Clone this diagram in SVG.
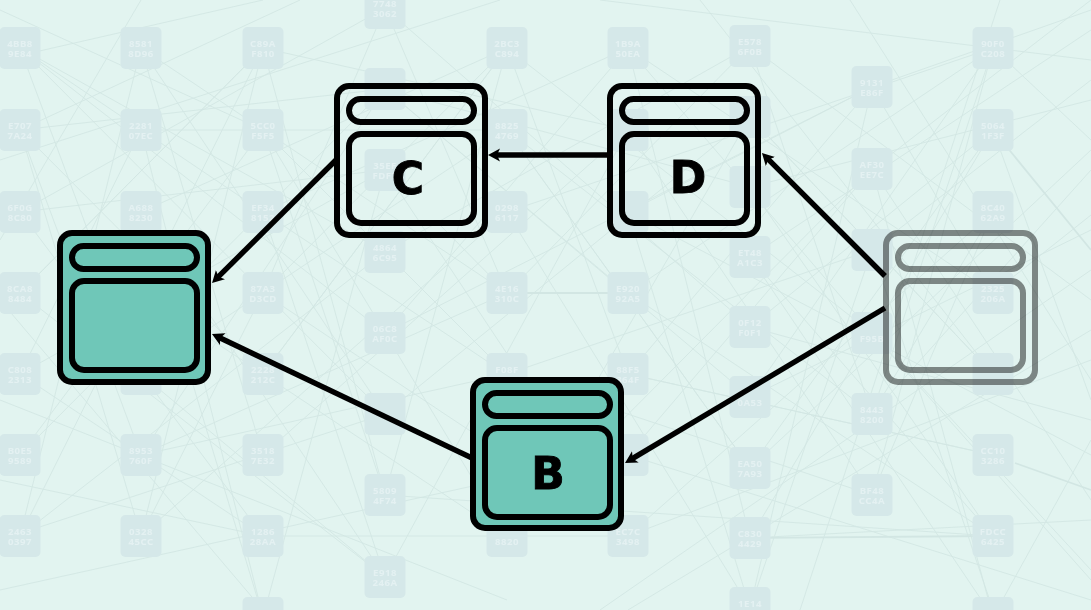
<svg xmlns="http://www.w3.org/2000/svg" width="1091" height="610" viewBox="0 0 1091 610">
<style>
.tile{fill:#d5e8e9}
.tt{font:bold 9.6px "Noto Sans","Liberation Sans",sans-serif;fill:#e4f1f2;text-anchor:middle;letter-spacing:.5px}
.web{fill:none;stroke:#d2e6e3;stroke-width:.9}
.frame{stroke:#000;stroke-width:6}
.w{fill:none}
.f{fill:#6fc7b8}
.lbl{font:bold 44px "DejaVu Sans",sans-serif;fill:#000;text-anchor:middle;stroke:#000;stroke-width:.9}
.cx{fill:none;stroke:#000;stroke-width:5.4}
</style>
<defs>
<filter id="soft" x="-2%" y="-2%" width="104%" height="104%"><feGaussianBlur stdDeviation="0.6"/></filter>
<rect id="t" x="-20.5" y="-21" width="41" height="42" rx="5"/>
<marker id="ah" markerUnits="userSpaceOnUse" markerWidth="14" markerHeight="16" refX="4" refY="7" orient="auto"><path d="M0,0.5 L12,7 L0,13.5 L3,7 Z" fill="#000"/></marker>
</defs>
<rect width="1091" height="610" fill="#e2f4f0"/>
<g id="background" filter="url(#soft)">
<path class="web" d="M0,10 L263,130 M20,48 L263,212 M20,48 L385,333 M20,130 L385,89 M20,212 L385,8 M20,293 L263,48 M20,374 L141,130 M20,455 L263,130 M20,536 L385,252 M141,48 L385,414 M141,48 L507,293 M141,130 L507,130 M141,212 L385,577 M141,455 L20,130 M141,536 L263,293 M141,536 L507,212 M263,48 L141,536 M263,48 L20,293 M263,130 L385,495 M263,212 L628,48 M263,293 L628,536 M263,374 L507,48 M263,455 L141,48 M263,536 L20,374 M263,536 L628,536 M263,617 L141,212 M263,617 L385,170 M385,8 L750,327 M385,89 L750,187 M385,89 L628,293 M385,170 L20,212 M385,252 L750,46 M385,333 L872,87 M385,414 L20,48 M385,495 L993,536 M385,577 L628,130 M385,577 L141,374 M507,48 L872,333 M507,48 L263,374 M507,130 L872,414 M507,212 L993,48 M507,293 L440,225 M507,374 L141,455 M507,536 L872,169 M507,536 L263,130 M628,48 L993,293 M628,130 L263,48 M628,212 L1091,455 M628,293 L993,536 M628,374 L872,87 M628,455 L263,212 M628,536 L993,212 M628,536 L1091,360 M750,46 L1091,300 M750,117 L507,536 M750,187 L1091,100 M750,257 L993,617 M750,327 L1091,420 M750,397 L385,89 M750,468 L507,130 M750,538 L993,130 M750,538 L1091,520 M750,608 L628,212 M750,608 L872,250 M872,87 L750,608 M872,87 L1091,10 M872,169 L1091,500 M872,250 L993,610 M872,333 L628,48 M872,414 L1091,170 M872,495 L507,374 M872,495 L993,48 M993,48 L750,397 M993,48 L1091,140 M993,130 L750,468 M993,212 L872,495 M993,293 L1091,215 M993,374 L750,117 M993,455 L628,374 M993,536 L750,257 M993,617 L872,169 M993,617 L1091,440 M600,0 L1091,60 M0,540 L385,414 M0,400 L507,600 M0,300 L263,610 M1091,330 L628,610 M1091,580 L872,333 M700,0 L993,374 M20,130 L300,0 M0,240 L141,0 M20,48 L141,374 M20,130 L141,536 M20,212 L263,536 M20,293 L385,577 M20,374 L385,170 M20,455 L385,89 M20,536 L263,48 M141,48 L20,536 M141,130 L263,617 M141,212 L507,48 M141,293 L507,536 M141,374 L507,130 M141,455 L507,293 M263,48 L385,495 M263,130 L507,374 M263,212 L385,577 M263,293 L507,48 M263,374 L20,130 M263,455 L628,130 M385,8 L507,293 M385,8 L263,293 M385,89 L141,455 M385,170 L628,536 M385,252 L20,48 M385,333 L628,48 M385,414 L750,117 M385,495 L507,48 M507,48 L628,374 M507,130 L750,468 M507,212 L750,608 M507,293 L750,46 M507,374 L872,250 M628,48 L750,538 M628,130 L872,495 M628,212 L872,87 M628,293 L993,48 M628,374 L993,455 M628,455 L872,169 M750,46 L872,414 M750,117 L993,374 M750,187 L993,536 M750,257 L1091,30 M750,327 L993,130 M750,397 L1091,230 M750,468 L1091,150 M872,87 L993,293 M872,169 L1091,0 M872,250 L1091,80 M872,333 L1091,570 M872,414 L993,212 M993,48 L872,414 M993,130 L1091,400 M0,60 L263,0 M0,160 L500,0 M0,590 L500,480 M0,480 L263,536 M600,610 L1091,270 M800,610 L1000,0 M1091,600 L628,455 M850,0 L1091,380"/>
<path class="web" d="M507,293 L628,293 M993,130 L1091,250 M1015,463 L1091,490 M750,538 L993,536" style="stroke-width:1.8"/>
<g class="tile">
<use href="#t" x="20" y="48"/><use href="#t" x="20" y="130"/><use href="#t" x="20" y="212"/><use href="#t" x="20" y="293"/><use href="#t" x="20" y="374"/><use href="#t" x="20" y="455"/><use href="#t" x="20" y="536"/>
<use href="#t" x="141" y="48"/><use href="#t" x="141" y="130"/><use href="#t" x="141" y="212"/><use href="#t" x="141" y="293"/><use href="#t" x="141" y="374"/><use href="#t" x="141" y="455"/><use href="#t" x="141" y="536"/>
<use href="#t" x="263" y="48"/><use href="#t" x="263" y="130"/><use href="#t" x="263" y="212"/><use href="#t" x="263" y="293"/><use href="#t" x="263" y="374"/><use href="#t" x="263" y="455"/><use href="#t" x="263" y="536"/><use href="#t" x="263" y="618"/>
<use href="#t" x="385" y="8"/><use href="#t" x="385" y="89"/><use href="#t" x="385" y="170"/><use href="#t" x="385" y="252"/><use href="#t" x="385" y="333"/><use href="#t" x="385" y="414"/><use href="#t" x="385" y="495"/><use href="#t" x="385" y="577"/>
<use href="#t" x="507" y="48"/><use href="#t" x="507" y="130"/><use href="#t" x="507" y="212"/><use href="#t" x="507" y="293"/><use href="#t" x="507" y="374"/><use href="#t" x="507" y="455"/><use href="#t" x="507" y="536"/>
<use href="#t" x="628" y="48"/><use href="#t" x="628" y="130"/><use href="#t" x="628" y="212"/><use href="#t" x="628" y="293"/><use href="#t" x="628" y="374"/><use href="#t" x="628" y="455"/><use href="#t" x="628" y="536"/>
<use href="#t" x="750" y="46"/><use href="#t" x="750" y="117"/><use href="#t" x="750" y="187"/><use href="#t" x="750" y="257"/><use href="#t" x="750" y="327"/><use href="#t" x="750" y="397"/><use href="#t" x="750" y="468"/><use href="#t" x="750" y="538"/><use href="#t" x="750" y="608"/>
<use href="#t" x="872" y="87"/><use href="#t" x="872" y="169"/><use href="#t" x="872" y="250"/><use href="#t" x="872" y="333"/><use href="#t" x="872" y="414"/><use href="#t" x="872" y="495"/>
<use href="#t" x="993" y="48"/><use href="#t" x="993" y="130"/><use href="#t" x="993" y="212"/><use href="#t" x="993" y="293"/><use href="#t" x="993" y="374"/><use href="#t" x="993" y="455"/><use href="#t" x="993" y="536"/><use href="#t" x="993" y="618"/>
</g>
<g class="tt">
<text y="46.6"><tspan x="20">4BB8</tspan><tspan x="20" dy="10.4">9E84</tspan></text>
<text y="128.6"><tspan x="20">E707</tspan><tspan x="20" dy="10.4">7A24</tspan></text>
<text y="210.6"><tspan x="20">6F0G</tspan><tspan x="20" dy="10.4">8C80</tspan></text>
<text y="291.6"><tspan x="20">8CA8</tspan><tspan x="20" dy="10.4">8484</tspan></text>
<text y="372.6"><tspan x="20">C808</tspan><tspan x="20" dy="10.4">2313</tspan></text>
<text y="453.6"><tspan x="20">B0E5</tspan><tspan x="20" dy="10.4">9589</tspan></text>
<text y="534.6"><tspan x="20">2463</tspan><tspan x="20" dy="10.4">0397</tspan></text>
<text y="46.6"><tspan x="141">8581</tspan><tspan x="141" dy="10.4">8D96</tspan></text>
<text y="128.6"><tspan x="141">2281</tspan><tspan x="141" dy="10.4">07EC</tspan></text>
<text y="210.6"><tspan x="141">A688</tspan><tspan x="141" dy="10.4">8230</tspan></text>
<text y="453.6"><tspan x="141">8953</tspan><tspan x="141" dy="10.4">760F</tspan></text>
<text y="534.6"><tspan x="141">0328</tspan><tspan x="141" dy="10.4">45CC</tspan></text>
<text y="46.6"><tspan x="263">C89A</tspan><tspan x="263" dy="10.4">F810</tspan></text>
<text y="128.6"><tspan x="263">5CC0</tspan><tspan x="263" dy="10.4">F5F5</tspan></text>
<text y="210.6"><tspan x="263">EF34</tspan><tspan x="263" dy="10.4">8152</tspan></text>
<text y="291.6"><tspan x="263">87A3</tspan><tspan x="263" dy="10.4">D3CD</tspan></text>
<text y="372.6"><tspan x="263">2228</tspan><tspan x="263" dy="10.4">212C</tspan></text>
<text y="453.6"><tspan x="263">3518</tspan><tspan x="263" dy="10.4">7E32</tspan></text>
<text y="534.6"><tspan x="263">1286</tspan><tspan x="263" dy="10.4">28AA</tspan></text>
<text y="6.6"><tspan x="385">7748</tspan><tspan x="385" dy="10.4">3062</tspan></text>
<text y="168.6"><tspan x="385">35EF</tspan><tspan x="385" dy="10.4">FDF7</tspan></text>
<text y="250.6"><tspan x="385">4864</tspan><tspan x="385" dy="10.4">6C95</tspan></text>
<text y="331.6"><tspan x="385">06C8</tspan><tspan x="385" dy="10.4">AF0C</tspan></text>
<text y="493.6"><tspan x="385">5809</tspan><tspan x="385" dy="10.4">4F74</tspan></text>
<text y="575.6"><tspan x="385">E918</tspan><tspan x="385" dy="10.4">246A</tspan></text>
<text y="46.6"><tspan x="507">2BC3</tspan><tspan x="507" dy="10.4">C894</tspan></text>
<text y="128.6"><tspan x="507">8825</tspan><tspan x="507" dy="10.4">4769</tspan></text>
<text y="210.6"><tspan x="507">0298</tspan><tspan x="507" dy="10.4">6117</tspan></text>
<text y="291.6"><tspan x="507">4E16</tspan><tspan x="507" dy="10.4">310C</tspan></text>
<text x="507" y="372.6">F08F</text>
<text x="507" y="545">8820</text>
<text y="46.6"><tspan x="628">1B9A</tspan><tspan x="628" dy="10.4">50EA</tspan></text>
<text y="291.6"><tspan x="628">E920</tspan><tspan x="628" dy="10.4">92A5</tspan></text>
<text y="372.6"><tspan x="628">88F5</tspan><tspan x="628" dy="10.4">364F</tspan></text>
<text y="534.6"><tspan x="628">EC7C</tspan><tspan x="628" dy="10.4">3498</tspan></text>
<text y="44.6"><tspan x="750">E578</tspan><tspan x="750" dy="10.4">6F0B</tspan></text>
<text y="255.6"><tspan x="750">ET48</tspan><tspan x="750" dy="10.4">A1C3</tspan></text>
<text y="325.6"><tspan x="750">0F12</tspan><tspan x="750" dy="10.4">F0F1</tspan></text>
<text x="750" y="406">0A53</text>
<text y="466.6"><tspan x="750">EA50</tspan><tspan x="750" dy="10.4">7A93</tspan></text>
<text y="536.6"><tspan x="750">C830</tspan><tspan x="750" dy="10.4">4429</tspan></text>
<text x="750" y="606.6">1E14</text>
<text y="85.6"><tspan x="872">9131</tspan><tspan x="872" dy="10.4">E86F</tspan></text>
<text y="167.6"><tspan x="872">AF30</tspan><tspan x="872" dy="10.4">EE7C</tspan></text>
<text x="872" y="342">F95B</text>
<text y="412.6"><tspan x="872">8443</tspan><tspan x="872" dy="10.4">8200</tspan></text>
<text y="493.6"><tspan x="872">BF48</tspan><tspan x="872" dy="10.4">CC4A</tspan></text>
<text y="46.6"><tspan x="993">90F0</tspan><tspan x="993" dy="10.4">C208</tspan></text>
<text y="128.6"><tspan x="993">5064</tspan><tspan x="993" dy="10.4">1F3F</tspan></text>
<text y="210.6"><tspan x="993">8C40</tspan><tspan x="993" dy="10.4">62A9</tspan></text>
<text y="291.6"><tspan x="993">2325</tspan><tspan x="993" dy="10.4">206A</tspan></text>
<text y="453.6"><tspan x="993">CC10</tspan><tspan x="993" dy="10.4">3286</tspan></text>
<text y="534.6"><tspan x="993">FDCC</tspan><tspan x="993" dy="10.4">6425</tspan></text>
</g>
</g>
<g id="connectors" class="cx">
<line x1="607" y1="155" x2="496" y2="155" marker-end="url(#ah)"/>
<line x1="336" y1="160" x2="217.7" y2="277.4" marker-end="url(#ah)"/>
<line x1="885" y1="276" x2="767.6" y2="158.7" marker-end="url(#ah)"/>
<line x1="885" y1="308" x2="631.9" y2="458.9" marker-end="url(#ah)"/>
<line x1="472" y1="458" x2="219.2" y2="337.5" marker-end="url(#ah)"/>
</g>
<g id="node-a" class="frame f" transform="translate(57,230)">
<rect x="3" y="3" width="148" height="149" rx="12"/><rect x="15" y="16" width="125" height="23" rx="11.5"/><rect x="15" y="51" width="125" height="89" rx="12"/>
</g>
<g id="node-b" class="frame f" transform="translate(470,377)">
<rect x="3" y="3" width="148" height="148" rx="12"/><rect x="15" y="16" width="125" height="23" rx="11.5"/><rect x="15" y="51" width="125" height="89" rx="12"/>
<text class="lbl" x="78" y="112">B</text>
</g>
<g id="node-c" class="frame w" transform="translate(334,83)">
<rect x="3" y="3" width="148" height="149" rx="12"/><rect x="15" y="16" width="125" height="23" rx="11.5"/><rect x="15" y="51" width="125" height="89" rx="12"/>
<text class="lbl" x="74" y="111">C</text>
</g>
<g id="node-d" class="frame w" transform="translate(607,83)">
<rect x="3" y="3" width="148" height="149" rx="12"/><rect x="15" y="16" width="125" height="23" rx="11.5"/><rect x="15" y="51" width="125" height="89" rx="12"/>
<text class="lbl" x="81" y="110">D</text>
</g>
<g id="node-e" class="frame w" transform="translate(883,230)" opacity="0.45">
<rect x="3" y="3" width="149" height="149" rx="12"/><rect x="15" y="16" width="125" height="23" rx="11.5"/><rect x="15" y="51" width="125" height="89" rx="12"/>
</g>
</svg>
